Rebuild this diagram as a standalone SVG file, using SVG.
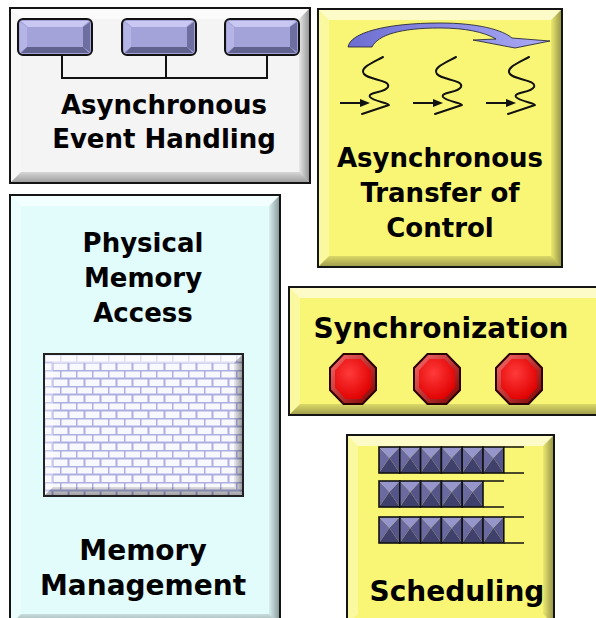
<svg xmlns="http://www.w3.org/2000/svg" xmlns:xlink="http://www.w3.org/1999/xlink" width="596" height="618" viewBox="0 0 596 618">
  <defs>
    <style>
      .frame { stroke: #141414; stroke-width: 2; }
      .bt { fill: #ffffff; fill-opacity: 0.6; }
      .bl { fill: #ffffff; fill-opacity: 0.3; }
      .br { fill: url(#shadeR); }
      .bb { fill: url(#shadeB); }
      .lbl { font-family: "DejaVu Sans", Verdana, sans-serif; font-weight: bold; fill: #000; text-anchor: middle; }
      .wire { fill: none; stroke: #111; stroke-width: 2; }
      .ink { fill: none; stroke: #111; stroke-width: 2; stroke-linecap: round; stroke-linejoin: round; }
      .tail { stroke: #111; stroke-width: 1.6; }
    </style>
    <linearGradient id="shadeR" x1="0" y1="0" x2="1" y2="0">
      <stop offset="0" stop-color="#000" stop-opacity="0.05"/>
      <stop offset="1" stop-color="#000" stop-opacity="0.38"/>
    </linearGradient>
    <linearGradient id="shadeB" x1="0" y1="0" x2="0" y2="1">
      <stop offset="0" stop-color="#000" stop-opacity="0.12"/>
      <stop offset="1" stop-color="#000" stop-opacity="0.35"/>
    </linearGradient>
    <linearGradient id="arcFill" x1="0" y1="0" x2="1" y2="0">
      <stop offset="0" stop-color="#6e6ed2"/>
      <stop offset="1" stop-color="#aaaaf4"/>
    </linearGradient>
    <radialGradient id="redFace" cx="0.4" cy="0.35" r="0.7">
      <stop offset="0" stop-color="#ff3a3a"/>
      <stop offset="1" stop-color="#e00000"/>
    </radialGradient>
    <linearGradient id="redEdge" x1="0" y1="0" x2="1" y2="1">
      <stop offset="0" stop-color="#ff6a6a"/>
      <stop offset="1" stop-color="#7a0000"/>
    </linearGradient>
    <pattern id="bricks" x="44" y="354" width="16" height="16" patternUnits="userSpaceOnUse">
      <rect width="16" height="16" fill="#f8f8ff"/>
      <path d="M0,0.5 H16 M0,8.5 H16 M0.5,0 V8 M8.5,8 V16" stroke="#aeaee0" stroke-width="2" fill="none"/>
    </pattern>

    <!-- bevelled event block -->
    <g id="evBlock">
      <rect x="0" y="0" width="74" height="36" rx="5" fill="#a3a3da" stroke="#111" stroke-width="2"/>
      <polygon points="3,2 71,2 64,8 10,8" fill="#c8c8f2"/>
      <polygon points="2,3 9,8 9,28 2,33" fill="#b4b4e6"/>
      <polygon points="72,3 72,33 65,28 65,8" fill="#6e6ea0"/>
      <polygon points="3,34 71,34 65,28 9,28" fill="#62628e"/>
    </g>

    <!-- thread squiggle with incoming arrow -->
    <g id="thread">
      <path class="ink" d="M383,57 C372,63 359,68 364,74 C369,80 391,80 388,87 C385,93 367,92 370,97 C373,101 389,103 389,105 L362,114"/>
      <line x1="340" y1="103" x2="362" y2="103" stroke="#111" stroke-width="2"/>
      <polygon points="370,103 360,99 360,107" fill="#111"/>
    </g>

    <!-- octagonal stop light -->
    <g id="stopLight">
      <polygon points="-9.5,-25 9.5,-25 23,-11 23,11 9.5,25 -9.5,25 -23,11 -23,-11" fill="url(#redEdge)" stroke="#2a0000" stroke-width="2"/>
      <polygon points="-7.5,-20 7.5,-20 18,-8.5 18,8.5 7.5,20 -7.5,20 -18,8.5 -18,-8.5" fill="url(#redFace)"/>
    </g>

    <!-- queued job cell -->
    <g id="cell">
      <polygon points="0,0 20.8,0 10.4,11" fill="#9696cc"/>
      <polygon points="0,0 10.4,11 0,26" fill="#6a6aa0"/>
      <polygon points="20.8,0 20.8,26 10.4,11" fill="#55558a"/>
      <polygon points="0,26 20.8,26 10.4,11" fill="#40406c"/>
      <rect x="0" y="0" width="20.8" height="26" fill="none" stroke="#111" stroke-width="1.6"/>
    </g>
  </defs>

  <rect width="596" height="618" fill="#ffffff"/>

  <!-- Asynchronous Event Handling -->
  <g id="async-event-handling">
    <rect class="frame" x="10" y="8" width="300" height="175" fill="#f4f4f4"/>
    <polygon class="bt" points="11,9 309,9 299,19 21,19"/>
    <polygon class="bl" points="11,9 21,19 21,172 11,182"/>
    <polygon class="br" points="309,9 309,182 299,172 299,19"/>
    <polygon class="bb" points="11,182 309,182 299,172 21,172"/>
    <use xlink:href="#evBlock" x="18" y="19"/>
    <use xlink:href="#evBlock" x="122" y="19"/>
    <use xlink:href="#evBlock" x="225" y="19"/>
    <path class="wire" d="M62,55 V78 H267 V55 M166,55 V78"/>
    <text class="lbl" x="164" y="114" font-size="26">Asynchronous</text>
    <text class="lbl" x="164" y="148" font-size="26">Event Handling</text>
  </g>

  <!-- Asynchronous Transfer of Control -->
  <g id="async-transfer-of-control">
    <rect class="frame" x="318" y="9" width="244" height="258" fill="#f9f676"/>
    <polygon class="bt" points="319,10 561,10 551,20 329,20"/>
    <polygon class="bl" points="319,10 329,20 329,256 319,266"/>
    <polygon class="br" points="561,10 561,266 551,256 551,20"/>
    <polygon class="bb" points="319,266 561,266 551,256 329,256"/>
    <path d="M348,47 C350,33 385,23 440,23 C478,23 503,30 512,38 L550,41 L515,48 L473,40 L496,39 C484,32 465,28 440,28 C400,28 378,35 372,47 Z" fill="url(#arcFill)" stroke="#1a1a2a" stroke-width="1" stroke-opacity="0.8"/>
    <use xlink:href="#thread"/>
    <use xlink:href="#thread" x="73"/>
    <use xlink:href="#thread" x="146"/>
    <text class="lbl" x="440" y="167" font-size="26">Asynchronous</text>
    <text class="lbl" x="440" y="202" font-size="26">Transfer of</text>
    <text class="lbl" x="440" y="237" font-size="26">Control</text>
  </g>

  <!-- Physical Memory Access / Memory Management -->
  <g id="memory">
    <rect class="frame" x="10" y="195" width="270" height="430" fill="#e2fcfc"/>
    <polygon class="bt" points="11,196 279,196 269,206 21,206"/>
    <polygon class="bl" points="11,196 21,206 21,614 11,624"/>
    <polygon class="br" points="279,196 279,624 269,614 269,206"/>
    <polygon class="bb" points="11,624 279,624 269,614 21,614"/>
    <text class="lbl" x="143" y="252" font-size="26">Physical</text>
    <text class="lbl" x="143" y="287" font-size="26">Memory</text>
    <text class="lbl" x="143" y="322" font-size="26">Access</text>
    <rect x="44" y="354" width="199" height="142" fill="url(#bricks)"/>
    <polygon points="45,355 242,355 234,363 53,363" fill="#ffffff" fill-opacity="0.6"/>
    <polygon points="45,355 53,363 53,487 45,495" fill="#ffffff" fill-opacity="0.35"/>
    <polygon class="br" points="242,355 242,495 234,487 234,363"/>
    <polygon class="bb" points="45,495 242,495 234,487 53,487"/>
    <rect x="44" y="354" width="199" height="142" fill="none" stroke="#222" stroke-width="2"/>
    <text class="lbl" x="143" y="560" font-size="28">Memory</text>
    <text class="lbl" x="143" y="595" font-size="28">Management</text>
  </g>

  <!-- Synchronization -->
  <g id="synchronization">
    <rect class="frame" x="289" y="287" width="320" height="128" fill="#f9f676"/>
    <polygon class="bt" points="290,288 608,288 598,298 300,298"/>
    <polygon class="bl" points="290,288 300,298 300,404 290,414"/>
    <polygon class="bb" points="290,414 608,414 598,404 300,404"/>
    <text class="lbl" x="441" y="338" font-size="28">Synchronization</text>
    <use xlink:href="#stopLight" x="353" y="379"/>
    <use xlink:href="#stopLight" x="437" y="379"/>
    <use xlink:href="#stopLight" x="519" y="379"/>
  </g>

  <!-- Scheduling -->
  <g id="scheduling">
    <rect class="frame" x="347" y="435" width="207" height="190" fill="#f9f676"/>
    <polygon class="bt" points="348,436 553,436 543,446 358,446"/>
    <polygon class="bl" points="348,436 358,446 358,614 348,624"/>
    <polygon class="br" points="553,436 553,624 543,614 543,446"/>
    <use xlink:href="#cell" x="379" y="447"/>
    <use xlink:href="#cell" x="399.8" y="447"/>
    <use xlink:href="#cell" x="420.6" y="447"/>
    <use xlink:href="#cell" x="441.4" y="447"/>
    <use xlink:href="#cell" x="462.2" y="447"/>
    <use xlink:href="#cell" x="483" y="447"/>
    <path class="tail" d="M503.8,447 H524 M503.8,473 H524"/>
    <use xlink:href="#cell" x="379" y="481"/>
    <use xlink:href="#cell" x="399.8" y="481"/>
    <use xlink:href="#cell" x="420.6" y="481"/>
    <use xlink:href="#cell" x="441.4" y="481"/>
    <use xlink:href="#cell" x="462.2" y="481"/>
    <path class="tail" d="M483,481 H504 M483,507 H504"/>
    <use xlink:href="#cell" x="379" y="517"/>
    <use xlink:href="#cell" x="399.8" y="517"/>
    <use xlink:href="#cell" x="420.6" y="517"/>
    <use xlink:href="#cell" x="441.4" y="517"/>
    <use xlink:href="#cell" x="462.2" y="517"/>
    <use xlink:href="#cell" x="483" y="517"/>
    <path class="tail" d="M503.8,517 H524 M503.8,543 H524"/>
    <text class="lbl" x="457" y="601" font-size="28">Scheduling</text>
  </g>
</svg>
